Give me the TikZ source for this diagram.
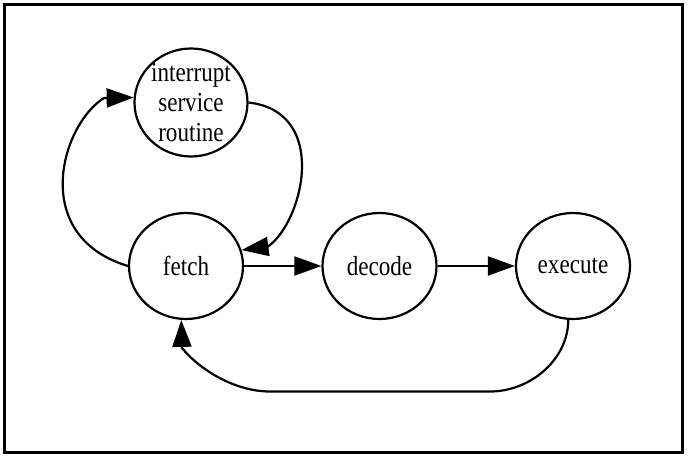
\documentclass[tikz,border=0pt]{standalone}
\usepackage{fontspec}
\setmainfont{Liberation Serif}[FakeStretch=0.84]
\usetikzlibrary{shapes.geometric, arrows.meta, positioning}
\tikzstyle{arrow} = [line width=2.2pt,-{Triangle[length=27pt,width=19pt]}]
\tikzstyle{stage} = [ellipse, draw=black, line width=2.2pt, minimum width=114pt, minimum height=106pt, inner sep=0pt, align=center, font=\fontsize{27.5}{30}\selectfont]

\begin{document}
\begin{tikzpicture}[x=1pt, y=1pt, node distance=193.5pt]

\useasboundingbox (0,0) rectangle (688,-457);
% Frame
\draw[line width=2.5pt] (4.5,-4.5) rectangle (682.5,-452.5);

% Stages
\node (fetch) [stage] at (186,-266) {fetch};
\node (decode) [stage, right of=fetch] {decode};
\node (execute) [stage, right of=decode] {execute};
\node (isr) [stage, above of=fetch, xshift=5pt, yshift=-30pt, minimum width=113pt, minimum height=108pt, inner sep=-6pt] {interrupt\\service\\routine};

% Connections
\draw [arrow] (fetch) -- (decode);
\draw [arrow] (decode) -- (execute);
\draw [arrow] (fetch.west) .. controls (29,-236) and (61,-125) .. (104,-98) -- (isr.175);
\draw [arrow] (isr.east) .. controls (330,-112) and (303,-222) .. (268,-246.5) -- (fetch.16);
\draw [arrow] (execute.-95) .. controls (568,-360) and (530,-391.5) .. (490,-391.5) -- (270,-391.5) .. controls (235,-391.5) and (200,-370) .. (182,-348) -- (fetch.-95);

\end{tikzpicture}
\end{document}
